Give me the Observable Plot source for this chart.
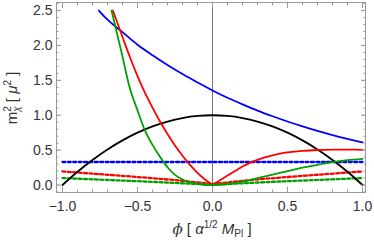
<!DOCTYPE html>
<html>
<head>
<meta charset="utf-8">
<script src="https://cdn.jsdelivr.net/npm/d3@7"></script>
<script src="https://cdn.jsdelivr.net/npm/@observablehq/plot@0.6"></script>
<style>
  html, body { margin: 0; padding: 0; background: #fff; }
</style>
</head>
<body>
<div id="chart"></div>
<script>
// ---- data ----
const blackPhi = [-1,-0.9,-0.8,-0.7,-0.6,-0.5,-0.4,-0.3,-0.2,-0.1,0,0.1,0.2,0.3,0.4,0.5,0.6,0.7,0.8,0.9,1];
const blackM2  = [0,0.19,0.36,0.51,0.64,0.75,0.84,0.91,0.96,0.99,1.0,0.99,0.96,0.91,0.84,0.75,0.64,0.51,0.36,0.19,0];

const blueSolidPhi = [-0.758,-0.7,-0.6,-0.5,-0.4,-0.3,-0.2,-0.1,0,0.1,0.2,0.3,0.4,0.5,0.6,0.7,0.8,0.9,1.0];
const blueSolidM2  = [2.5,2.37,2.19,2.01,1.86,1.72,1.59,1.47,1.355,1.25,1.155,1.065,0.985,0.91,0.84,0.775,0.715,0.66,0.61];

const blueDotPhi = [-1,0,1];
const blueDotM2  = [0.33,0.33,0.33];

const redSolidLeftPhi = [-0.664,-0.6,-0.55,-0.5,-0.45,-0.4,-0.35,-0.3,-0.25,-0.2,-0.15,-0.1,-0.05,0];
const redSolidLeftM2  = [2.5,2.12,1.83,1.56,1.32,1.11,0.91,0.73,0.565,0.42,0.29,0.175,0.079,0];
const redSolidRightPhi = [0,0.05,0.1,0.15,0.2,0.25,0.3,0.35,0.4,0.45,0.5,0.6,0.7,0.8,0.9,1.0];
const redSolidRightM2  = [0,0.068,0.135,0.2,0.265,0.318,0.36,0.395,0.425,0.45,0.468,0.49,0.502,0.508,0.508,0.505];

const redDotLeftPhi  = [-1,-0.75,-0.5,-0.25,0];
const redDotLeftM2   = [0.195,0.155,0.115,0.07,0.015];
const redDotRightPhi = [0,0.25,0.5,0.75,1];
const redDotRightM2  = [0.015,0.07,0.115,0.155,0.195];

const greenSolidPhi = [-0.673,-0.6,-0.55,-0.5,-0.45,-0.4,-0.35,-0.3,-0.25,-0.2,-0.15,-0.1,-0.05,0,0.1,0.2,0.3,0.4,0.5,0.6,0.7,0.8,0.9,1.0];
const greenSolidM2  = [2.5,1.84,1.38,1.07,0.78,0.575,0.405,0.255,0.145,0.08,0.04,0.017,0.004,0,0.015,0.05,0.1,0.15,0.2,0.248,0.29,0.328,0.356,0.375];

const greenDotLeftPhi  = [-1,-0.75,-0.5,-0.25,0];
const greenDotLeftM2   = [0.1,0.077,0.055,0.03,0.003];
const greenDotRightPhi = [0,0.25,0.5,0.75,1];
const greenDotRightM2  = [0.003,0.03,0.055,0.077,0.1];

const xMajorTicks = [-1,-0.5,0,0.5,1];
const xTickLabels = ["\u22121.0","\u22120.5","0.0","0.5","1.0"];
const xMinorTicks = [-1,-0.9,-0.8,-0.7,-0.6,-0.5,-0.4,-0.3,-0.2,-0.1,0,0.1,0.2,0.3,0.4,0.5,0.6,0.7,0.8,0.9,1];
const yMajorTicks = [0,0.5,1,1.5,2,2.5];
const yTickLabels = ["0.0","0.5","1.0","1.5","2.0","2.5"];
const yMinorTicks = [-0.1,0,0.1,0.2,0.3,0.4,0.5,0.6,0.7,0.8,0.9,1,1.1,1.2,1.3,1.4,1.5,1.6,1.7,1.8,1.9,2,2.1,2.2,2.3,2.4,2.5,2.6];

// ---- build tables ----
const rows = (phi, m2) => phi.map((p, i) => ({phi: p, m2: m2[i]}));

const BLUE = "#0000ff", RED = "#ff0000", GREEN = "#00a000", BLACK = "#000000";
const tickColor = "#999";
const labelColor = "#333";
const fmtX = d => xTickLabels[xMajorTicks.indexOf(d)];
const fmtY = d => yTickLabels[yMajorTicks.indexOf(d)];

const dotted = (phi, m2, color) => Plot.line(rows(phi, m2), {x: "phi", y: "m2", stroke: color, strokeWidth: 2.3,
  strokeDasharray: "3 2.4", curve: "catmull-rom", clip: true});
const solid = (phi, m2, color) => Plot.line(rows(phi, m2), {x: "phi", y: "m2", stroke: color, strokeWidth: 1.8,
  curve: "catmull-rom", clip: true});

const plot = Plot.plot({
  width: 374,
  height: 242,
  marginLeft: 56,
  marginRight: 9,
  marginTop: 2,
  marginBottom: 50,
  style: {fontFamily: "'Liberation Sans', Arial, sans-serif", fontSize: "14px", background: "#fff"},
  x: {domain: [-1.04, 1.02]},
  y: {domain: [-0.107, 2.615]},
  marks: [
    Plot.ruleX([0], {stroke: "#777", strokeWidth: 1}),
    dotted(blueDotPhi, blueDotM2, BLUE),
    dotted(redDotLeftPhi, redDotLeftM2, RED),
    dotted(redDotRightPhi, redDotRightM2, RED),
    dotted(greenDotLeftPhi, greenDotLeftM2, GREEN),
    dotted(greenDotRightPhi, greenDotRightM2, GREEN),
    solid(blackPhi, blackM2, BLACK),
    solid(blueSolidPhi, blueSolidM2, BLUE),
    solid(redSolidLeftPhi, redSolidLeftM2, RED),
    solid(redSolidRightPhi, redSolidRightM2, RED),
    solid(greenSolidPhi, greenSolidM2, GREEN),
    Plot.frame({stroke: tickColor}),
    // tick labels
    Plot.axisX(xMajorTicks, {anchor: "bottom", tickSize: 0, tickPadding: 9, tickFormat: fmtX, label: null, color: labelColor}),
    Plot.axisY(yMajorTicks, {anchor: "left", tickSize: 0, tickPadding: 4, tickFormat: fmtY, label: null, color: labelColor}),
    // inward frame ticks
    Plot.axisX(xMajorTicks, {anchor: "bottom", tickSize: -5, tickFormat: () => "", label: null, stroke: tickColor}),
    Plot.axisX(xMinorTicks, {anchor: "bottom", tickSize: -2.5, tickFormat: () => "", label: null, stroke: tickColor}),
    Plot.axisX(xMajorTicks, {anchor: "top", tickSize: -5, tickFormat: () => "", label: null, stroke: tickColor}),
    Plot.axisX(xMinorTicks, {anchor: "top", tickSize: -2.5, tickFormat: () => "", label: null, stroke: tickColor}),
    Plot.axisY(yMajorTicks, {anchor: "left", tickSize: -5, tickFormat: () => "", label: null, stroke: tickColor}),
    Plot.axisY(yMinorTicks, {anchor: "left", tickSize: -2.5, tickFormat: () => "", label: null, stroke: tickColor}),
    Plot.axisY(yMajorTicks, {anchor: "right", tickSize: -5, tickFormat: () => "", label: null, stroke: tickColor}),
    Plot.axisY(yMinorTicks, {anchor: "right", tickSize: -2.5, tickFormat: () => "", label: null, stroke: tickColor})
  ]
});

const svg = d3.select(plot);
// x axis label: ϕ [ α^{1/2} M_Pl ]
const xl = svg.append("text")
  .attr("x", 212).attr("y", 234)
  .attr("text-anchor", "middle")
  .attr("fill", labelColor)
  .style("font-family", "'Liberation Sans', Arial, sans-serif")
  .style("font-size", "15px");
xl.append("tspan").attr("font-style", "italic").attr("font-family", "'DejaVu Serif', serif").text("\u03D5");
xl.append("tspan").text(" [ ");
xl.append("tspan").attr("font-style", "italic").text("\u03B1");
xl.append("tspan").attr("font-size", "10px").attr("dy", -6).text("1/2");
xl.append("tspan").attr("dy", 6).attr("font-style", "italic").text(" M");
xl.append("tspan").attr("font-size", "10px").attr("dy", 3).text("Pl");
xl.append("tspan").attr("dy", -3).text(" ]");

// y axis label: m_χ^2 [ μ^2 ]
const yl = svg.append("text")
  .attr("transform", "translate(17,98) rotate(-90)")
  .attr("text-anchor", "middle")
  .attr("fill", labelColor)
  .style("font-family", "'Liberation Sans', Arial, sans-serif")
  .style("font-size", "15px");
yl.append("tspan").text("m");
yl.append("tspan").attr("font-size", "10px").attr("dy", -6).text("2");
yl.append("tspan").attr("font-size", "10px").attr("font-style", "italic").attr("dx", -5.5).attr("dy", 9).text("\u03C7");
yl.append("tspan").attr("dy", -3).text(" [ ");
yl.append("tspan").attr("font-style", "italic").text("\u03BC");
yl.append("tspan").attr("font-size", "10px").attr("dy", -6).text("2");
yl.append("tspan").attr("dy", 6).text(" ]");

document.getElementById("chart").appendChild(plot);
</script>
</body>
</html>
